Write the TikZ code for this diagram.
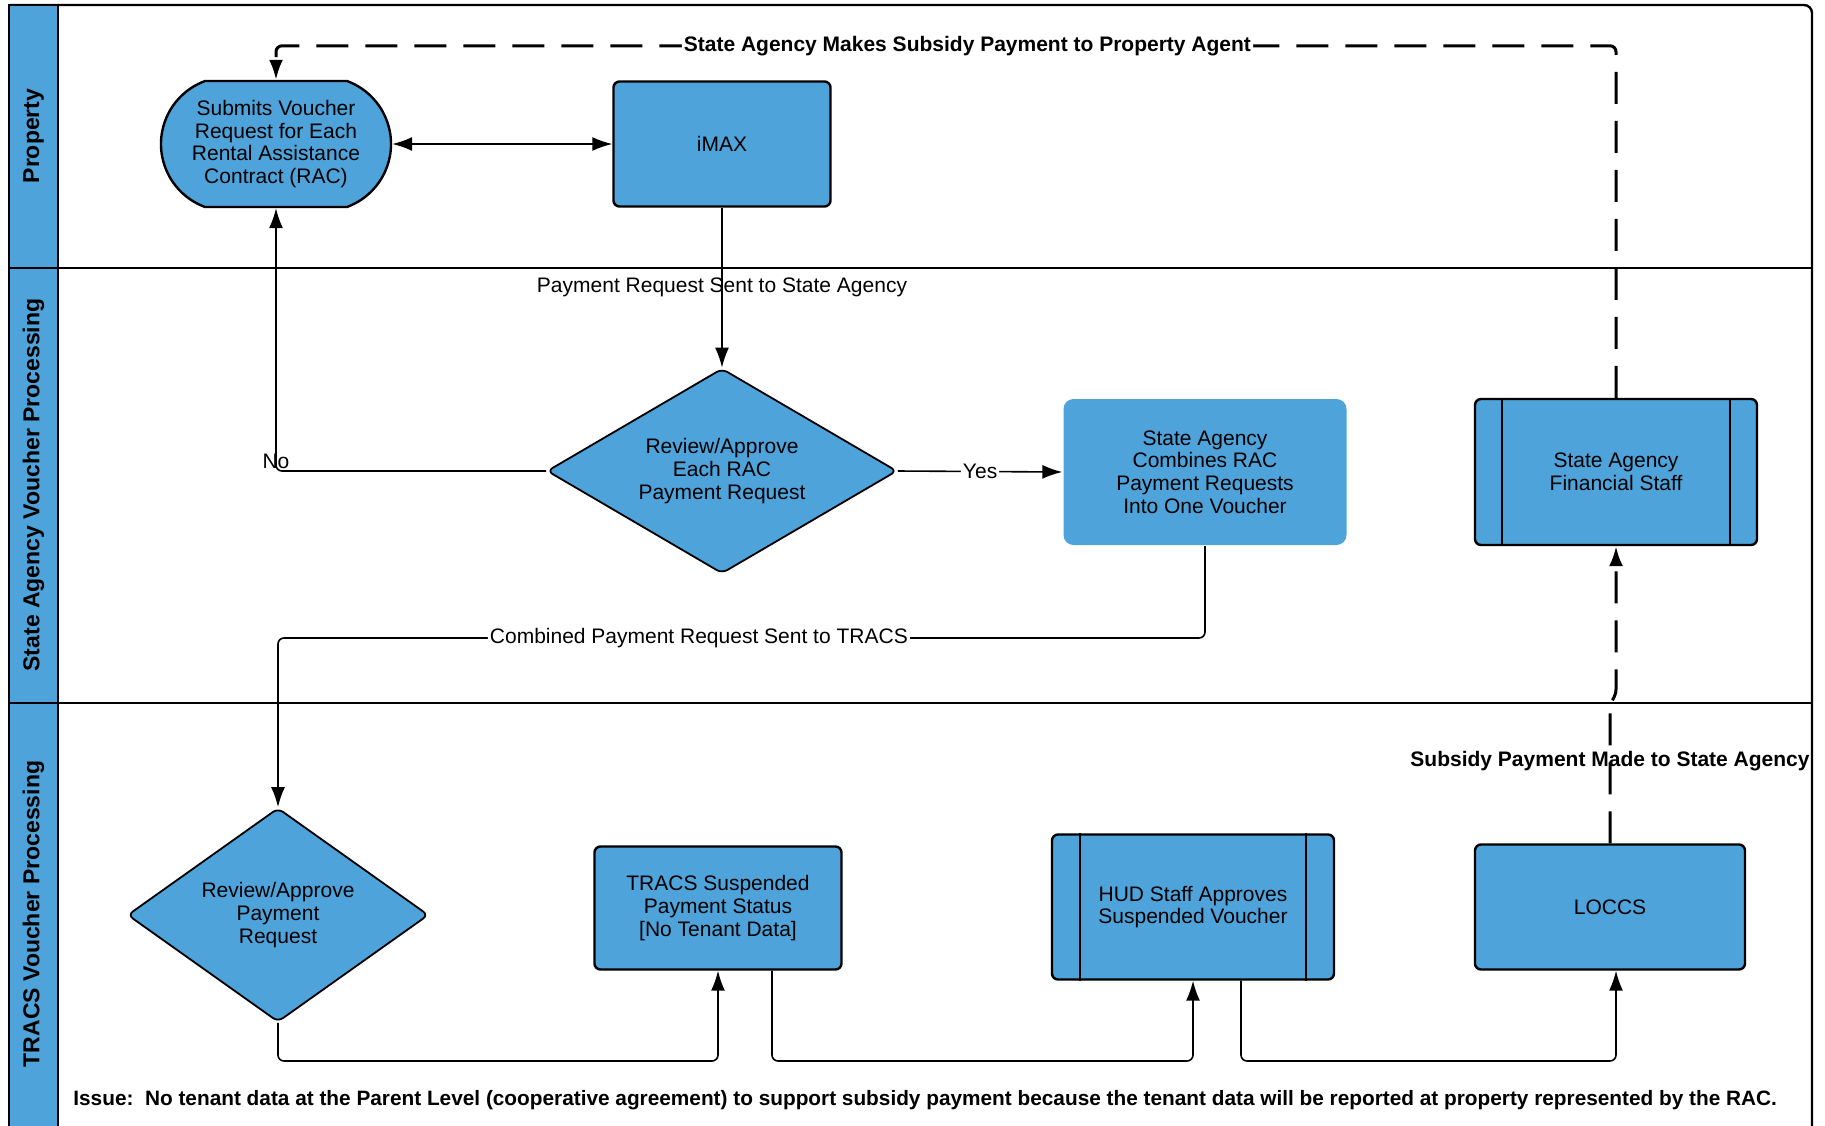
\documentclass[tikz,border=0pt]{standalone}
\usepackage{fontspec}
\setmainfont{Liberation Sans}
\usetikzlibrary{shapes.geometric,shapes.misc,arrows.meta}
\definecolor{laneblue}{RGB}{77,163,218}
\newcommand{\boxfont}{\fontsize{10.5}{11.3}\selectfont}
\tikzset{
  lane/.style={draw=black, line width=1.2pt, fill=laneblue},
  lanelbl/.style={rotate=90, font=\fontsize{11.5}{13}\selectfont\bfseries},
  procbox/.style={rectangle, draw=black, line width=1.2pt, fill=laneblue,
    rounded corners=3pt, align=center, inner sep=0pt, font=\boxfont},
  submitbox/.style={rounded rectangle, rounded rectangle arc length=140,
    draw=black, line width=1.2pt, fill=laneblue, align=center, inner sep=0pt,
    font=\boxfont},
  decision/.style={diamond, draw=black, line width=0.9pt, fill=laneblue,
    rounded corners=3pt, align=center, inner sep=0pt, font=\boxfont},
  flow/.style={draw=black, line width=0.8pt, rounded corners=3pt, -{Latex[length=10pt,width=7pt]}},
  payflow/.style={flow, line width=1.5pt, dash pattern=on 16pt off 8.5pt},
  lbl/.style={font=\boxfont, inner sep=1pt},
  boldlbl/.style={font=\fontsize{10.5}{12}\selectfont\bfseries, inner sep=1pt},
}
\begin{document}
\begin{tikzpicture}[x=0.5pt,y=-0.5pt]
   \useasboundingbox (0,0) rectangle (1825,1125);

   % swim lanes
   \draw[line width=1.2pt, rounded corners=4pt] (9,5) -- (1812,5) -- (1812,1135);
   \draw[line width=1.2pt] (9,268) -- (1812,268);
   \draw[line width=1.2pt] (9,703) -- (1812,703);
   \draw[lane] (9,5) rectangle (58,268);
   \draw[lane] (9,268) rectangle (58,703);
   \draw[lane] (9,703) rectangle (58,1135);
   \node[lanelbl] (proplane) at (33.5,136) {Property};
   \node[lanelbl] (statelane) at (33.5,485) {State Agency Voucher Processing};
   \node[lanelbl] (tracslane) at (33.5,914) {TRACS Voucher Processing};

   % steps
   \node[submitbox, minimum width=115pt, minimum height=63pt] (submit) at (276,144)
      {Submits Voucher\\Request for Each\\Rental Assistance\\Contract (RAC)};
   \node[procbox, minimum width=108.5pt, minimum height=62.5pt] (imax) at (722,144) {iMAX};
   \node[decision, aspect=1.7, minimum width=175pt, minimum height=102.5pt] (review) at (722,471)
      {Review/Approve\\Each RAC\\Payment Request};
   \node[procbox, draw=none, rounded corners=5pt, minimum width=141.5pt, minimum height=73pt]
      (combine) at (1205,472) {State Agency\\Combines RAC\\Payment Requests\\Into One Voucher};
   \node[procbox, minimum width=141pt, minimum height=73pt] (finstaff) at (1616,472)
      {State Agency\\Financial Staff};
   \node[decision, aspect=1.4, minimum width=150.5pt, minimum height=107pt] (tracsreview) at (278,915)
      {Review/Approve\\Payment\\Request};
   \node[procbox, minimum width=123.5pt, minimum height=61.5pt] (suspend) at (718,908)
      {TRACS Suspended\\Payment Status\\{}[No Tenant Data]};
   \node[procbox, minimum width=141pt, minimum height=72.5pt] (hudstaff) at (1193,907)
      {HUD Staff Approves\\Suspended Voucher};
   \node[procbox, minimum width=135pt, minimum height=62.5pt] (loccs) at (1610,907) {LOCCS};

   % staff side bars
   \draw[line width=1.2pt] ([xshift=14pt]finstaff.north west) -- ([xshift=14pt]finstaff.south west);
   \draw[line width=1.2pt] ([xshift=-14pt]finstaff.north east) -- ([xshift=-14pt]finstaff.south east);
   \draw[line width=1.2pt] ([xshift=14.5pt]hudstaff.north west) -- ([xshift=14.5pt]hudstaff.south west);
   \draw[line width=1.2pt] ([xshift=-14.5pt]hudstaff.north east) -- ([xshift=-14.5pt]hudstaff.south east);

   % property and state agency flow
   \draw[flow, {Latex[length=10pt,width=7pt]}-{Latex[length=10pt,width=7pt]}] (submit) -- (imax);
   \draw[flow] (imax.south) -- node[lbl] {Payment Request Sent to State Agency} (review.north);
   \draw[flow] (review.west) -| node[lbl, above, pos=0.5] {No} (submit.south);
   \draw[flow] (review.east) -- node[lbl, fill=white] {Yes} (combine.west);
   \coordinate (combdrop) at (1205,638);
   \draw[flow] (combine.south) -- (combdrop)
      -| node[lbl, fill=white, pos=0.273] {Combined Payment Request Sent to TRACS} (tracsreview.north);

   % tracs flow
   \coordinate (tracsrow) at (0,1061);
   \draw[flow] (tracsreview.south) -- (tracsreview.south |- tracsrow) -| (suspend.south);
   \draw[flow] ([xshift=27pt]suspend.south) -- ([xshift=27pt]suspend.south |- tracsrow)
      -| (hudstaff.south);
   \draw[flow] ([xshift=24pt]hudstaff.south) -- ([xshift=24pt]hudstaff.south |- tracsrow)
      -| ([xshift=3pt]loccs.south);

   % payments
   \draw[payflow] (loccs.north) -- node[boldlbl, pos=0.59] {Subsidy Payment Made to State Agency} ++(0,-140)
      -- ++(6,-8) -- (finstaff.south);
   \draw[payflow] (finstaff.north) -- ++(0,-352)
      -| node[boldlbl, fill=white, pos=0.242] {State Agency Makes Subsidy Payment to Property Agent} (submit.north);

   \node[boldlbl, font=\fontsize{10.4}{12}\selectfont\bfseries, anchor=west] (issue) at (71,1100) {Issue:\ \ No tenant data at the Parent Level (cooperative agreement) to support subsidy payment because the tenant data will be reported at property represented by the RAC.};
\end{tikzpicture}
\end{document}
